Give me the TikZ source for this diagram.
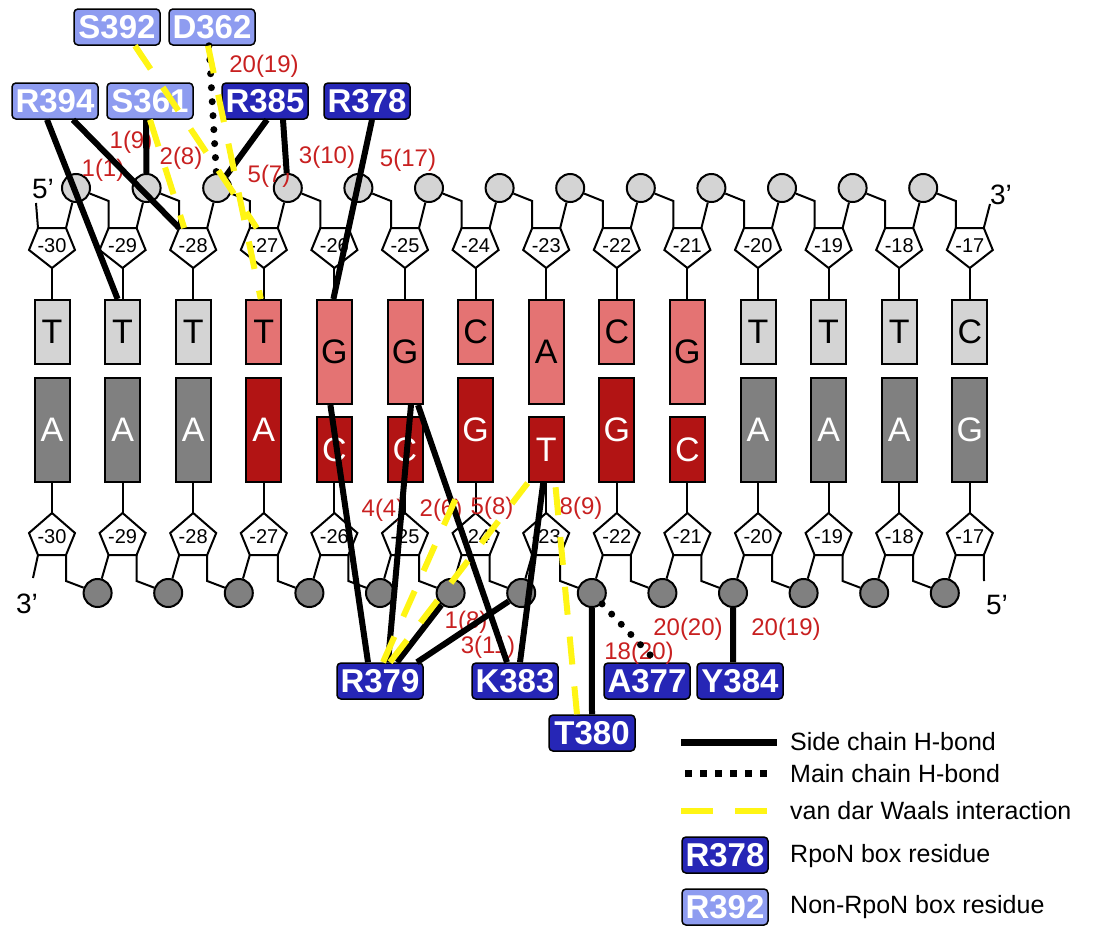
\documentclass[tikz,border=0pt]{standalone}
\usepackage{fontspec}
\setmainfont{Liberation Sans}

\definecolor{ltgray}{RGB}{212,212,212}
\definecolor{dkgray}{RGB}{128,128,128}
\definecolor{salmon}{RGB}{228,115,115}
\definecolor{dkred}{RGB}{178,20,20}
\definecolor{rpon}{RGB}{38,38,182}
\definecolor{nonrpon}{RGB}{142,156,240}
\definecolor{numred}{RGB}{200,32,32}
\definecolor{vdw}{RGB}{255,245,20}

\tikzset{
  backbone/.style={line width=2pt},
  phos/.style={circle, draw, line width=2pt, minimum size=28pt, inner sep=0pt},
  sugartxt/.style={inner sep=0pt, font=\fontsize{20}{20}\selectfont},
  base/.style={draw, line width=2pt, minimum width=35pt, inner sep=0pt, anchor=north,
    font=\fontsize{34}{34}\selectfont},
  res/.style={draw, rounded corners=4pt, line width=1.5pt, minimum width=86pt,
    minimum height=36pt, inner sep=1pt, text=white, font=\fontsize{33}{33}\selectfont\bfseries},
  num/.style={inner sep=0pt, text=numred, font=\fontsize{24}{24}\selectfont},
  endtxt/.style={inner sep=0pt, font=\fontsize{28}{28}\selectfont},
  legtxt/.style={inner sep=0pt, anchor=west, font=\fontsize{25}{25}\selectfont},
  sidechain/.style={line width=6pt},
  mainchain/.style={line width=7pt, line cap=round, dash pattern=on 0pt off 14pt},
  vdwline/.style={line width=6pt, vdw, dash pattern=on 28pt off 22pt},
}

\begin{document}
\begin{tikzpicture}[x=1pt, y=-1pt]
    \useasboundingbox (0,0) rectangle (1096,926);

    % Top strand: sugars and bases
    \foreach \nt/\fc/\hh [count=\i from 0] in {T/ltgray/64, T/ltgray/64, T/ltgray/64, T/salmon/64,
        G/salmon/104, G/salmon/104, C/salmon/64, A/salmon/104, C/salmon/64, G/salmon/104,
        T/ltgray/64, T/ltgray/64, T/ltgray/64, C/ltgray/64} {
      \pgfmathsetmacro\x{52+70.6*\i}
      \pgfmathtruncatemacro\n{30-\i}
      \draw[backbone, fill=white] (\x-14,228) coordinate (ts\n-l) -- (\x+14,228) coordinate (ts\n-r)
        -- (\x+23,250) -- (\x,268) coordinate (ts\n-a) -- (\x-23,250) -- cycle;
      \coordinate (ts\n-t) at (\x,228);
      \node[sugartxt] (ts\n) at (\x,246) {-\n};
      \node[base, fill=\fc, minimum height=\hh] (tb\n) at (\x,299) {\nt};
      \draw[backbone] (ts\n-a) -- (tb\n);
    }
    % Top strand: phosphates
    \foreach \i in {0,...,12} {
      \pgfmathsetmacro\x{52+70.6*\i}
      \pgfmathtruncatemacro\n{30-\i}
      \pgfmathtruncatemacro\m{29-\i}
      \node[phos, fill=ltgray] (tp\n) at (\x+24,188) {};
      \draw[backbone] (tp\n) -- (ts\n-r);
      \draw[backbone] (tp\n) -- (\x+56.6,201) -- (ts\m-l);
    }
    \coordinate (top5) at (36,203);
    \coordinate (top3) at (990,204);
    \draw[backbone] (ts30-l) -- (top5);
    \draw[backbone] (ts17-r) -- (top3);
    \node[endtxt] (t5lbl) at (43,189) {5’};
    \node[endtxt] (t3lbl) at (1001,195) {3’};

    % Bottom strand: sugars and bases
    \foreach \nt/\fc/\hh [count=\i from 0] in {A/dkgray/104, A/dkgray/104, A/dkgray/104, A/dkred/104,
        C/dkred/65, C/dkred/65, G/dkred/104, T/dkred/65, G/dkred/104, C/dkred/65,
        A/dkgray/104, A/dkgray/104, A/dkgray/104, G/dkgray/104} {
      \pgfmathsetmacro\x{52+70.6*\i}
      \pgfmathtruncatemacro\n{30-\i}
      \draw[backbone, fill=white] (\x,513) coordinate (bs\n-a) -- (\x+23,533)
        -- (\x+14,555) coordinate (bs\n-r) -- (\x-14,555) coordinate (bs\n-l) -- (\x-23,533) -- cycle;
      \node[sugartxt] (bs\n) at (\x,537) {-\n};
      \node[base, anchor=south, fill=\fc, text=white, minimum height=\hh] (bb\n) at (\x,483) {\nt};
      \draw[backbone] (bb\n) -- (bs\n-a);
    }
    % Bottom strand: phosphates
    \foreach \i in {1,...,13} {
      \pgfmathsetmacro\x{52+70.6*\i}
      \pgfmathtruncatemacro\n{30-\i}
      \pgfmathtruncatemacro\p{31-\i}
      \node[phos, fill=dkgray] (bp\n) at (\x-25,593) {};
      \draw[backbone] (bs\n-l) -- (bp\n);
      \draw[backbone] (bs\p-r) -- (\x-56.6,581) -- (bp\n);
    }
    \coordinate (bot3) at (33,578);
    \coordinate (bot5) at (984,581);
    \draw[backbone] (bs30-l) -- (bot3);
    \draw[backbone] (bs17-r) -- (bot5);
    \node[endtxt] (b3lbl) at (27,604) {3’};
    \node[endtxt] (b5lbl) at (997,605) {5’};

    % Residues
    \node[res, fill=nonrpon] (S392) at (117,27) {S392};
    \node[res, fill=nonrpon] (D362) at (212,27) {D362};
    \node[res, fill=nonrpon] (R394) at (55,101) {R394};
    \node[res, fill=nonrpon] (S361) at (150,101) {S361};
    \node[res, fill=rpon] (R385) at (265,101) {R385};
    \node[res, fill=rpon] (R378) at (367,101) {R378};
    \node[res, fill=rpon] (R379) at (380,681) {R379};
    \node[res, fill=rpon] (K383) at (515,681) {K383};
    \node[res, fill=rpon] (A377) at (647,681) {A377};
    \node[res, fill=rpon] (Y384) at (740,681) {Y384};
    \node[res, fill=rpon] (T380) at (592,733) {T380};

    % Occupancy numbers
    \node[num] (n1) at (103,170) {1(1)};
    \node[num] (n2) at (131,142) {1(9)};
    \node[num] (n3) at (181,158) {2(8)};
    \node[num] (n4) at (264,66) {20(19)};
    \node[num] (n5) at (269,176) {5(7)};
    \node[num] (n6) at (327,157) {3(10)};
    \node[num] (n7) at (408,160) {5(17)};
    \node[num] (n8) at (383,510) {4(4)};
    \node[num] (n9) at (441,510) {2(6)};
    \node[num] (n10) at (492,508) {5(8)};
    \node[num] (n11) at (581,508) {8(9)};
    \node[num] (n12) at (466,622) {1(8)};
    \node[num] (n13) at (488,647) {3(11)};
    \node[num] (n14) at (639,653) {18(20)};
    \node[num] (n15) at (688,629) {20(20)};
    \node[num] (n16) at (786,629) {20(19)};

    % Side chain H-bonds
    \draw[sidechain] ([xshift=-8pt]R394.south) -- ([xshift=-5pt]tb29.north);
    \draw[sidechain] ([xshift=18pt]R394.south) -- (ts28-l);
    \draw[sidechain] ([xshift=-4pt]S361.south) -- (tp29);
    \draw[sidechain] ([xshift=2pt]R385.south) -- (tp28);
    \draw[sidechain] ([xshift=18pt]R385.south) -- (tp27);
    \draw[sidechain] ([xshift=5pt]R378.south) -- ([xshift=-1pt]tb26.north);
    \draw[sidechain] ([xshift=-4pt]tb26.south) -- ([xshift=-12pt]R379.north);
    \draw[sidechain] ([xshift=6pt]tb25.south) -- ([xshift=8pt]R379.north);
    \draw[sidechain] ([xshift=17pt]R379.north) -- (bp24);
    \draw[sidechain] ([xshift=37pt]R379.north) -- (bp23);
    \draw[sidechain] ([xshift=13pt]tb25.south) -- ([xshift=-8pt]K383.north);
    \draw[sidechain] ([xshift=-3pt]bb23.south) -- ([xshift=5pt]K383.north);
    \draw[sidechain] (bp22) -- (T380.north);
    \draw[sidechain] (bp20) -- ([xshift=-7pt]Y384.north);

    % Main chain H-bonds
    \draw[mainchain] ([xshift=-3pt]D362.south) -- (tp28);
    \draw[mainchain] (bp22) -- ([xshift=10pt]A377.north);

    % van der Waals
    \draw[vdwline] (S361.south) -- ([xshift=-9pt]ts28-t);
    \draw[vdwline] ([xshift=18pt]S392.south) -- ([xshift=-7pt]ts27-t);
    \draw[vdwline] ([xshift=-4pt]D362.south) -- ([xshift=-3pt]tb27.north);
    \draw[vdwline] ([xshift=3pt]R379.north) -- ([xshift=-13pt]bb24.south);
    \draw[vdwline] ([xshift=10pt]R379.north) -- (bb23.south west);
    \draw[vdwline] ([xshift=-15pt]T380.north) -- ([xshift=9pt]bb23.south);

    % Legend
    \coordinate (lg1a) at (681,742); \coordinate (lg1b) at (777,742);
    \coordinate (lg2a) at (685,773); \coordinate (lg2b) at (770,773);
    \coordinate (lg3a) at (681,811); \coordinate (lg3b) at (767,811);
    \draw[sidechain, line width=7pt] (lg1a) -- (lg1b);
    \draw[mainchain, line cap=butt, dash pattern=on 7pt off 8pt] (lg2a) -- (lg2b);
    \draw[vdwline, dash pattern=on 32pt off 22pt] (lg3a) -- (lg3b);
    \node[res, fill=rpon] (lgR378) at (725,855) {R378};
    \node[res, fill=nonrpon] (lgR392) at (725,907) {R392};
    \node[legtxt] (lt1) at (790,742) {Side chain H-bond};
    \node[legtxt] (lt2) at (790,774) {Main chain H-bond};
    \node[legtxt] (lt3) at (790,811) {van dar Waals interaction};
    \node[legtxt] (lt4) at (790,856) {RpoN box residue};
    \node[legtxt] (lt5) at (790,907) {Non-RpoN box residue};
\end{tikzpicture}
\end{document}
